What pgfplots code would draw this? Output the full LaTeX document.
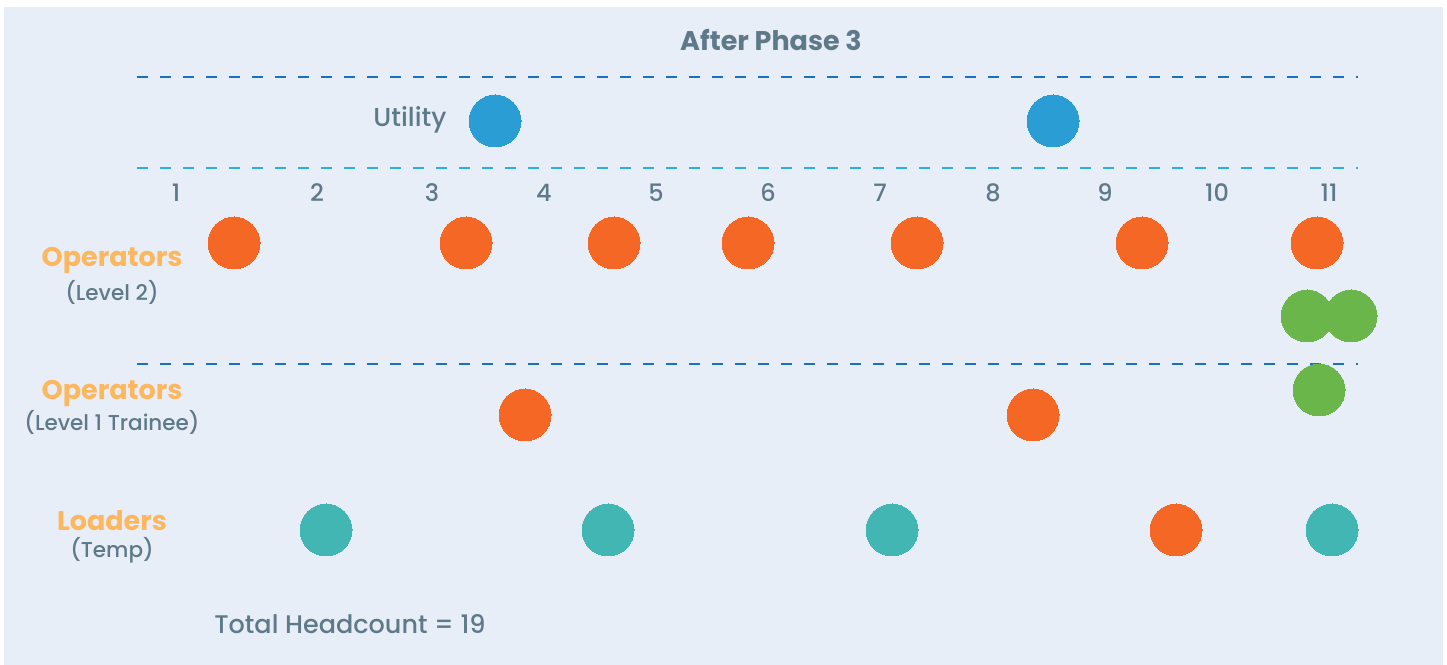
\documentclass[border=0pt]{standalone}
\usepackage{pgfplots}
\pgfplotsset{compat=1.18}
\usepackage{fontspec}
\setmainfont{Poppins}[UprightFont={* Medium}, BoldFont={* Bold}]
\definecolor{bg}{HTML}{E8EEF8}
\definecolor{txt}{HTML}{5E7A89}
\definecolor{lbl}{HTML}{FDB75E}
\definecolor{orn}{HTML}{F46724}
\definecolor{grn}{HTML}{6AB64A}
\definecolor{tealc}{HTML}{42B6B3}
\definecolor{util}{HTML}{299DD4}
\definecolor{dashA}{HTML}{1573C0}
\definecolor{dashB}{HTML}{2BAEE4}
\tikzset{num/.style={txt, font=\fontsize{24bp}{28bp}\selectfont}}
\begin{document}
\begin{tikzpicture}[x=1bp,y=1bp]
\fill[white] (0,0) rectangle (1447,665);
\fill[bg] (4,0) rectangle (1443,658);
\begin{axis}[at={(0,0)}, anchor=south west, scale only axis, width=1447bp, height=665bp,
  xmin=0, xmax=1447, ymin=0, ymax=665, hide axis, clip=false]
% dashed separators
\draw[dashA, line width=2bp, dash pattern=on 11bp off 12bp] (axis cs:137,588) -- (axis cs:1358,588);
\draw[dashB, line width=2bp, dash pattern=on 11bp off 12bp] (axis cs:137,497) -- (axis cs:1358,497);
\draw[dashA, line width=2bp, dash pattern=on 11bp off 12bp] (axis cs:137,301) -- (axis cs:1358,301);
% utility
\addplot[only marks, mark=*, mark size=26bp, mark options={draw=util, fill=util, line width=0pt}]
  coordinates {(495,544) (1053,544)};
% operators orange
\addplot[only marks, mark=*, mark size=26bp, mark options={draw=orn, fill=orn, line width=0pt}]
  coordinates {(234,422) (466,422) (614,422) (748,422) (917,422) (1142,422) (1317,422)
               (525,250) (1033,250) (1176,135)};
% green
\addplot[only marks, mark=*, mark size=26bp, mark options={draw=grn, fill=grn, line width=0pt}]
  coordinates {(1307,349) (1351,349) (1319,275)};
% teal
\addplot[only marks, mark=*, mark size=26bp, mark options={draw=tealc, fill=tealc, line width=0pt}]
  coordinates {(326,135) (608,135) (892,135) (1332,135)};
% title
\node[txt, font=\fontsize{27bp}{32bp}\selectfont\bfseries] at (axis cs:771,625) {After Phase 3};
% column numbers
\node[num] at (axis cs:176,472) {1};
\node[num] at (axis cs:317,472) {2};
\node[num] at (axis cs:432,472) {3};
\node[num] at (axis cs:544,472) {4};
\node[num] at (axis cs:656,472) {5};
\node[num] at (axis cs:768,472) {6};
\node[num] at (axis cs:880,472) {7};
\node[num] at (axis cs:993,472) {8};
\node[num] at (axis cs:1105,472) {9};
\node[num] at (axis cs:1217,472) {10};
\node[num] at (axis cs:1329,472) {11};
\node[txt, font=\fontsize{26bp}{30bp}\selectfont, anchor=east] at (axis cs:450,545) {Utility};
\node[lbl, font=\fontsize{27bp}{32bp}\selectfont\bfseries] at (axis cs:112,405) {Operators};
\node[txt, font=\fontsize{21.5bp}{26bp}\selectfont] at (axis cs:112,373) {(Level 2)};
\node[lbl, font=\fontsize{27bp}{32bp}\selectfont\bfseries] at (axis cs:112,272) {Operators};
\node[txt, font=\fontsize{21.5bp}{26bp}\selectfont] at (axis cs:112,243) {(Level 1 Trainee)};
\node[lbl, font=\fontsize{27bp}{32bp}\selectfont\bfseries] at (axis cs:112,144) {Loaders};
\node[txt, font=\fontsize{21.5bp}{26bp}\selectfont] at (axis cs:112,115) {(Temp)};
\node[txt, font=\fontsize{25.5bp}{30bp}\selectfont] at (axis cs:350,41) {Total Headcount = 19};
\end{axis}
\end{tikzpicture}
\end{document}
